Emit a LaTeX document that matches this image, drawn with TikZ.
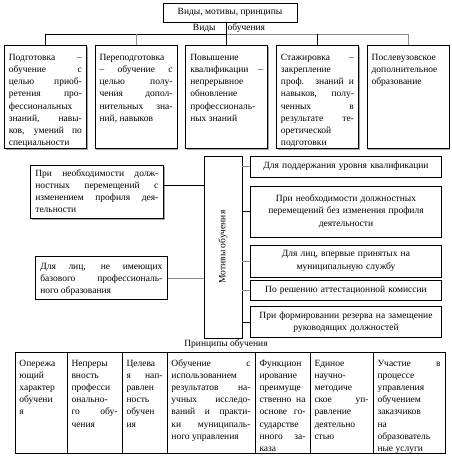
\documentclass[tikz,border=0pt]{standalone}
\usepackage{fontspec}
\setmainfont{Liberation Serif}
\usetikzlibrary{positioning,shadows}
\definecolor{linegray}{gray}{0.55}

\begin{document}
\begin{tikzpicture}[x=1pt,y=-1pt,line width=0.7pt,
	every node/.style={font=\fontsize{9.5}{12.2}\selectfont},
	kind node/.style={draw,fill=white,drop shadow={shadow xshift=1.2pt,shadow yshift=-1.2pt,opacity=1,fill=gray!70},
		text width=73pt,inner xsep=4.5pt,inner ysep=3pt,text height=12pt,text depth=85pt,align=justify},
	left node/.style={draw,fill=white,inner xsep=5pt,inner ysep=3pt,align=justify},
	motive node/.style={draw,minimum width=191pt,text width=187pt,inner xsep=2pt,align=center},
	cell/.style={draw,outer sep=0pt,text width=#1,inner xsep=4.5pt,inner ysep=3pt,text height=11pt,text depth=84pt,align=justify}]

	\useasboundingbox (0,0) rectangle (451,459);

	% title and kinds of training
	\node[draw,minimum width=134pt,minimum height=19pt] (title) at (230,12.5) {Виды, мотивы, принципы};
	\node (kinds) at (229,28) {Виды\hspace{12pt}обучения};

	\node[kind node,anchor=north west] (k1) at (4,45) {Подготовка –\linebreak обучение с\linebreak целью приоб-\linebreak ретения про-\linebreak фессиональных\linebreak знаний, навы-\linebreak ков, умений по\linebreak специальности};
	\node[kind node,right=8pt of k1] (k2) {Переподготовка\linebreak – обучение с\linebreak целью полу-\linebreak чения допол-\linebreak нительных зна-\linebreak ний, навыков};
	\node[kind node,right=8pt of k2] (k3) {Повышение\linebreak квалификации –\linebreak непрерывное\linebreak обновление\linebreak профессиональ-\linebreak ных знаний};
	\node[kind node,right=8pt of k3] (k4) {Стажировка –\linebreak закрепление\linebreak проф. знаний и\linebreak навыков, полу-\linebreak ченных в\linebreak результате те-\linebreak оретической\linebreak подготовки};
	\node[kind node,right=8pt of k4] (k5) {Послевузовское\linebreak дополнительное\linebreak образование};

	\coordinate (hub) at (226,34);
	\draw (title.south -| hub) -- (hub);
	\draw (k1.north |- hub) -- (hub);
	\draw[linegray] (hub) -- (k5.north |- hub);
	\draw (k1.north |- hub) -- (k1.north);
	\draw[linegray] (k2.north |- hub) -- (k2.north);
	\draw (k3.north |- hub) -- (k3.north);
	\draw (k4.north |- hub) -- (k4.north);
	\draw[linegray] (k5.north |- hub) -- (k5.north);

	% motives
	\node[draw,minimum width=38pt,minimum height=182pt] (motiv) at (223,247) {\rotatebox{90}{Мотивы обучения}};

	\node[left node,drop shadow={shadow xshift=1.2pt,shadow yshift=-1.2pt,opacity=1,fill=gray!70},
		text width=123pt,text height=8pt,text depth=39pt,anchor=north west] (L1) at (30,165)
		{При необходимости долж-\linebreak ностных перемещений с\linebreak изменением профиля дея-\linebreak тельности};
	\node[left node,text width=122pt,text height=10pt,text depth=27pt,anchor=north west] (L2) at (35,256)
		{Для лиц, не имеющих\linebreak базового профессиональ-\linebreak ного образования};

	\node[motive node,minimum height=21pt] (m1) at (346,166.5) {Для поддержания уровня квалификации};
	\node[motive node,minimum height=51pt] (m2) at (346,211.5) {При необходимости должностных\\перемещений без изменения профиля\\деятельности};
	\node[motive node,minimum height=32pt] (m3) at (346,261) {Для лиц, впервые принятых на\\муниципальную службу};
	\node[motive node,minimum height=20pt] (m4) at (346,290) {По решению аттестационной комиссии};
	\node[motive node,minimum height=31pt] (m5) at (346,322) {При формировании резерва на замещение\\руководящих должностей};

	\coordinate (l1out) at ([yshift=6.5pt]L1.east);
	\draw (l1out) -- (l1out -| motiv.west);
	\draw[linegray] (L2.east) -- (L2.east -| motiv.west);
	\draw[linegray] (m1.west -| motiv.east) -- (m1.west);
	\draw (m2.west -| motiv.east) -- (m2.west);
	\draw[linegray] (m3.west -| motiv.east) -- (m3.west);
	\draw[linegray] (m4.west -| motiv.east) -- (m4.west);
	\draw (m5.west -| motiv.east) -- (m5.west);

	% principles
	\node (princ) at (226,344) {Принципы обучения};

	\node[cell=43pt,anchor=north west] (c1) at (15,352) {Опережа\linebreak ющий\linebreak характер\linebreak обучени\linebreak я};
	\node[cell=46pt,right=0pt of c1] (c2) {Непреры\linebreak вность\linebreak професси\linebreak онально-\linebreak го обу-\linebreak чения};
	\node[cell=36pt,right=0pt of c2] (c3) {Целева\linebreak я нап-\linebreak равлен\linebreak ность\linebreak обучен\linebreak ия};
	\node[cell=79pt,right=0pt of c3] (c4) {Обучение с\linebreak использованием\linebreak результатов на-\linebreak учных исследо-\linebreak ваний и практи-\linebreak ки муниципаль-\linebreak ного управления};
	\node[cell=46pt,right=0pt of c4] (c5) {Функцион\linebreak ирование\linebreak преимуще\linebreak ственно на\linebreak основе го-\linebreak сударстве\linebreak нного за-\linebreak каза};
	\node[cell=54pt,right=0pt of c5] (c6) {Единое\linebreak научно-\linebreak методиче\linebreak ское уп-\linebreak равление\linebreak деятельно\linebreak стью};
	\node[cell=63pt,right=0pt of c6] (c7) {Участие в\linebreak процессе\linebreak управления\linebreak обучением\linebreak заказчиков\linebreak на\linebreak образователь\linebreak ные услуги};
\end{tikzpicture}
\end{document}
